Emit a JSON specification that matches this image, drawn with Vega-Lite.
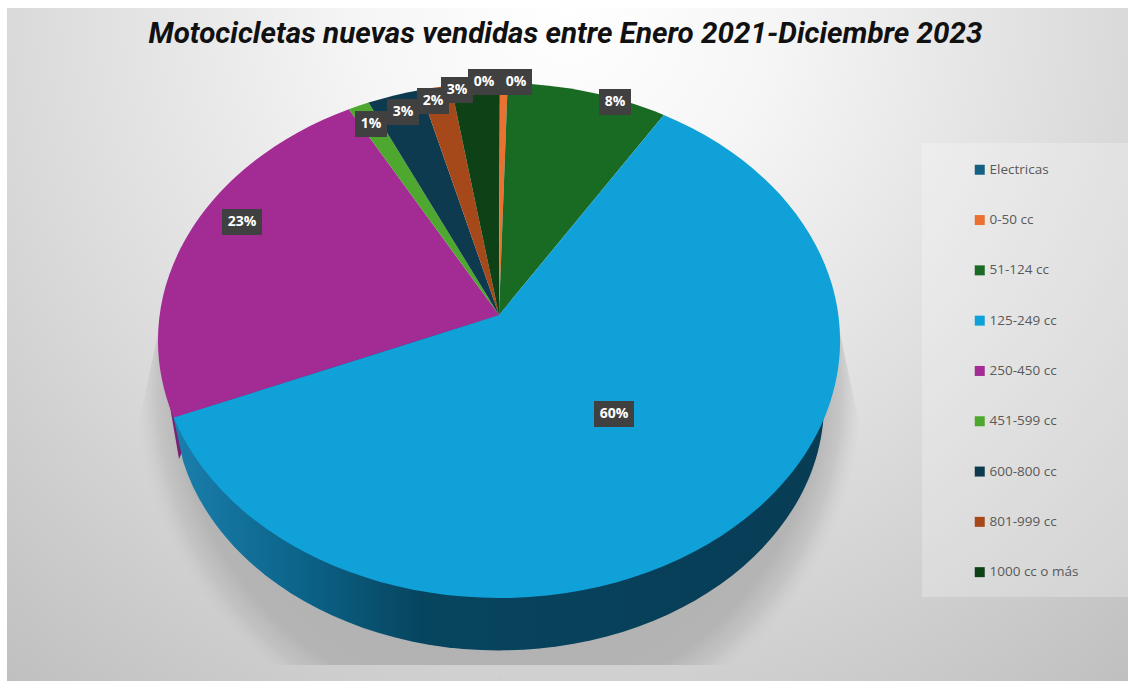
{
  "$schema": "https://vega.github.io/schema/vega-lite/v6.json",
  "width": 1121,
  "height": 673,
  "autosize": {"type": "none"},
  "padding": {"left": 7, "top": 8, "right": 0, "bottom": 0},
  "background": "white",
  "title": {
    "text": "Motocicletas nuevas vendidas entre Enero 2021-Diciembre 2023",
    "font": "Roboto", "fontSize": 29.6, "fontStyle": "italic", "fontWeight": "bold",
    "color": "#111111", "anchor": "middle", "frame": "group", "baseline": "middle", "dy": 60, "dx": -2
  },
  "datasets": {
    "ventas": [
      {"categoria": "Electricas", "pct": 0.05},
      {"categoria": "0-50 cc", "pct": 0.4},
      {"categoria": "51-124 cc", "pct": 8.4},
      {"categoria": "125-249 cc", "pct": 60},
      {"categoria": "250-450 cc", "pct": 23.4},
      {"categoria": "451-599 cc", "pct": 1.1},
      {"categoria": "600-800 cc", "pct": 2.8},
      {"categoria": "801-999 cc", "pct": 1.6},
      {"categoria": "1000 cc o más", "pct": 2.5}
    ]
  },
  "data": {"name": "ventas"},
  "encoding": {
    "x": {"type": "quantitative", "axis": null, "scale": {"domain": [-492, 629], "nice": false, "zero": false}},
    "y": {"type": "quantitative", "axis": null, "scale": {"domain": [366, -307], "nice": false, "zero": false}}
  },
  "layer": [
    {
      "description": "Chart backdrop",
      "data": {"values": [{"capa": "fondo"}]},
      "mark": {
        "type": "point", "filled": true, "size": 4, "opacity": 1,
        "shape": "M-492,-307H629V366H-492Z",
        "color": {"gradient": "radial", "x1": 0.5, "y1": 0.2, "r1": 0, "x2": 0.5, "y2": 0.2, "r2": 0.82,
          "stops": [{"offset": 0, "color": "#ffffff"}, {"offset": 0.22, "color": "#f6f6f6"}, {"offset": 0.6, "color": "#dadada"}, {"offset": 1, "color": "#bcbcbc"}]}
      },
      "encoding": {"x": {"datum": 0}, "y": {"datum": 0}}
    },
    {
      "description": "Soft shadow under the disc",
      "data": {"values": [{"capa": "sombra"}]},
      "mark": {
        "type": "point", "filled": true, "size": 4, "opacity": 1,
        "shape": "M-334,-15L-372,165L-372,350L372,350L372,165L334,-15Z M0,-216l1,0l0,1Z M0,364l1,0l0,1Z",
        "color": {"gradient": "radial", "x1": 0.5, "y1": 0.5, "r1": 0, "x2": 0.5, "y2": 0.5, "r2": 0.5,
          "stops": [{"offset": 0, "color": "#ababab"}, {"offset": 0.86, "color": "#b4b4b4"}, {"offset": 0.92, "color": "rgba(190,190,190,0.75)"}, {"offset": 0.98, "color": "rgba(205,205,205,0)"}, {"offset": 1, "color": "rgba(205,205,205,0)"}]}
      },
      "encoding": {"x": {"datum": 0}, "y": {"datum": 0}}
    },
    {
      "description": "Legend panel",
      "data": {"values": [{"capa": "panel"}]},
      "mark": {"type": "rect", "fill": "#ffffff", "opacity": 0.25},
      "encoding": {
        "x": {"datum": 423}, "x2": {"datum": 629},
        "y": {"datum": -172}, "y2": {"datum": 282}
      }
    },
    {
      "description": "Side wall of the 250-450 cc slice",
      "data": {"values": [{"capa": "pared"}]},
      "mark": {"type": "point", "filled": true, "size": 4, "opacity": 1, "color": "#7b1f72",
        "shape": "M-331,80L-320,144L-300,100Z"},
      "encoding": {"x": {"datum": 0}, "y": {"datum": 0}}
    },
    {
      "description": "Side wall of the 125-249 cc slice",
      "data": {"values": [{"capa": "pared"}]},
      "mark": {
        "type": "point", "filled": true, "size": 4, "opacity": 1,
        "shape": "M325,85A325,247 0 0 1 -316,146L-326,100L0,0Z",
        "color": {"gradient": "linear", "x1": 0, "y1": 0, "x2": 1, "y2": 0,
          "stops": [{"offset": 0, "color": "#1a7fad"}, {"offset": 0.2, "color": "#0b6388"}, {"offset": 0.38, "color": "#07455f"}, {"offset": 1, "color": "#083c55"}]}
      },
      "encoding": {"x": {"datum": 0}, "y": {"datum": 0}}
    },
    {
      "description": "Pie slices, each outline derived from its share through a tilted-disc projection",
      "transform": [
        {"joinaggregate": [{"op": "sum", "field": "pct", "as": "total"}]},
        {"window": [{"op": "sum", "field": "pct", "as": "acum"}]},
        {"calculate": "2*PI*(datum.acum-datum.pct)/datum.total", "as": "t0"},
        {"calculate": "2*PI*datum.acum/datum.total", "as": "t1"},
        {"calculate": "round(3393*sin(datum.t0)/(1+0.099*cos(datum.t0)))/10", "as": "x0"},
        {"calculate": "round(-2550*cos(datum.t0)/(1+0.099*cos(datum.t0)))/10", "as": "y0"},
        {"calculate": "round(3393*sin(datum.t1)/(1+0.099*cos(datum.t1)))/10", "as": "x1"},
        {"calculate": "round(-2550*cos(datum.t1)/(1+0.099*cos(datum.t1)))/10", "as": "y1"},
        {"calculate": "'M0,0L'+datum.x0+','+datum.y0+'A341,257.5 0 '+(datum.pct/datum.total>0.5?1:0)+' 1 '+datum.x1+','+datum.y1+'Z'", "as": "contorno"}
      ],
      "mark": {"type": "point", "filled": true, "size": 4, "opacity": 1},
      "encoding": {
        "x": {"datum": 0},
        "y": {"datum": 0},
        "shape": {"field": "contorno", "type": "nominal", "scale": null, "legend": null},
        "color": {
          "field": "categoria", "type": "nominal", "sort": null,
          "scale": {
            "domain": ["Electricas", "0-50 cc", "51-124 cc", "125-249 cc", "250-450 cc", "451-599 cc", "600-800 cc", "801-999 cc", "1000 cc o más"],
            "range": ["#156082", "#e97132", "#196b24", "#10a1d9", "#a32b94", "#4ea72e", "#0d3a4e", "#a5491a", "#0f4117"]
          },
          "legend": {
            "title": null, "orient": "none", "legendX": 966, "legendY": 155,
            "symbolType": "square", "symbolSize": 100, "symbolStrokeWidth": 0,
            "labelFont": "Open Sans", "labelFontSize": 13.5, "labelColor": "#595959", "labelOffset": 3,
            "rowPadding": 35.3, "labelLimit": 150
          }
        }
      }
    },
    {
      "description": "Dark plates behind the share labels",
      "transform": [
        {"calculate": "round(datum.pct)+'%'", "as": "etiqueta"},
        {"calculate": "{'Electricas':-15,'0-50 cc':17,'51-124 cc':116,'125-249 cc':115,'250-450 cc':-257,'451-599 cc':-128,'600-800 cc':-96,'801-999 cc':-66,'1000 cc o más':-42}[datum.categoria]", "as": "lx"},
        {"calculate": "{'Electricas':-233,'0-50 cc':-233,'51-124 cc':-213,'125-249 cc':99,'250-450 cc':-93,'451-599 cc':-191,'600-800 cc':-203,'801-999 cc':-214,'1000 cc o más':-225}[datum.categoria]", "as": "ly"},
        {"calculate": "length(datum.etiqueta)>2?'M-20,-13H20V13H-20Z':'M-16,-13H16V13H-16Z'", "as": "placa"}
      ],
      "mark": {"type": "point", "filled": true, "size": 4, "opacity": 1, "color": "#404040"},
      "encoding": {
        "x": {"field": "lx"},
        "y": {"field": "ly"},
        "shape": {"field": "placa", "type": "nominal", "scale": null, "legend": null}
      }
    },
    {
      "description": "Share labels",
      "transform": [
        {"calculate": "round(datum.pct)+'%'", "as": "etiqueta"},
        {"calculate": "{'Electricas':-15,'0-50 cc':17,'51-124 cc':116,'125-249 cc':115,'250-450 cc':-257,'451-599 cc':-128,'600-800 cc':-96,'801-999 cc':-66,'1000 cc o más':-42}[datum.categoria]", "as": "lx"},
        {"calculate": "{'Electricas':-233,'0-50 cc':-233,'51-124 cc':-213,'125-249 cc':99,'250-450 cc':-93,'451-599 cc':-191,'600-800 cc':-203,'801-999 cc':-214,'1000 cc o más':-225}[datum.categoria]", "as": "ly"}
      ],
      "mark": {"type": "text", "font": "Open Sans", "fontSize": 14, "fontWeight": "bold", "color": "#ffffff", "align": "center", "baseline": "middle"},
      "encoding": {
        "x": {"field": "lx"},
        "y": {"field": "ly"},
        "text": {"field": "etiqueta", "type": "nominal"}
      }
    }
  ],
  "config": {"view": {"stroke": null}}
}
